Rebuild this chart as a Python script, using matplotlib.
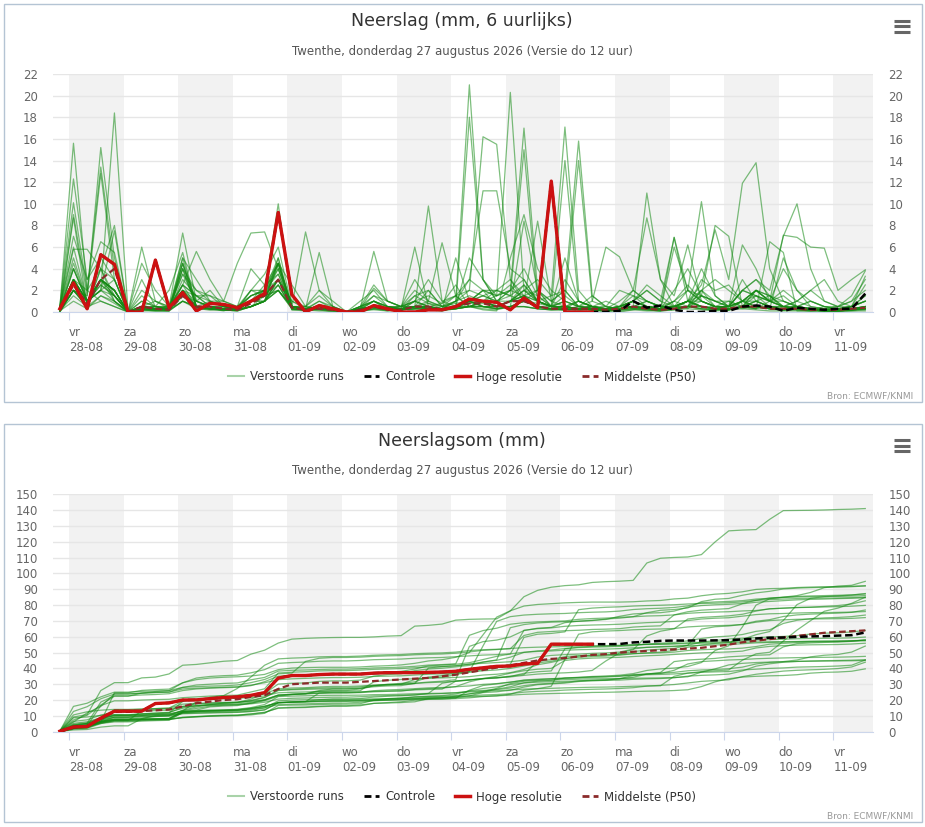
import numpy as np
import matplotlib
matplotlib.use('Agg')
import matplotlib.pyplot as plt
from matplotlib.lines import Line2D
from matplotlib.patches import Rectangle

# tijdas: 60 stappen van 6 uur, in uren t.o.v. vr 28-08 00:00 (eerste punt do 27-08 20u)
hours = -4 + 6 * np.arange(60)

day_names = ['vr', 'za', 'zo', 'ma', 'di', 'wo', 'do', 'vr', 'za', 'zo', 'ma', 'di', 'wo', 'do', 'vr']
day_dates = ['28-08', '29-08', '30-08', '31-08', '01-09', '02-09', '03-09', '04-09',
             '05-09', '06-09', '07-09', '08-09', '09-09', '10-09', '11-09']

# verstoorde runs, neerslag per 6 uur (mm)
members = [
    [0.3, 9.0, 1.5, 15.2, 5.0, 0.0, 3.0, 0.5, 2.0, 5.5, 0.5, 1.0, 1.0, 0.5, 4.0, 2.5, 4.5, 2.5, 0.5, 0.3, 0.2, 0.1, 0.0, 0.3, 0.5,
     0.3, 6.0, 0.5, 0.8, 2.5, 0.5, 0.2, 0.1, 5.0, 9.0, 4.0, 2.0, 1.0, 0.5, 1.5, 0.5, 0.3, 0.5, 11.0, 3.0, 0.5, 0.3, 1.5, 8.0, 7.0, 0.5, 0.3, 6.5, 5.5, 0.1, 0.1, 0.2, 0.3, 0.2, 0.4],
    [0.5, 6.0, 1.0, 3.0, 2.0, 0.0, 0.5, 0.3, 0.2, 2.5, 1.5, 0.5, 0.3, 0.2, 1.0, 2.0, 4.5, 0.5, 0.2, 0.3, 0.1, 0.0, 0.3, 1.0, 0.5,
     0.2, 1.5, 0.8, 0.5, 1.0, 21.0, 3.0, 1.0, 2.0, 4.0, 1.5, 0.5, 3.0, 1.0, 0.5, 0.5, 2.0, 1.5, 0.5, 0.3, 1.0, 2.5, 1.0, 0.5, 0.3, 0.5, 2.0, 1.5, 0.5, 1.0, 2.0, 3.0, 1.0, 0.5, 2.5],
    [0.2, 3.0, 1.0, 2.0, 18.4, 0.0, 1.5, 0.5, 0.3, 4.0, 2.0, 1.0, 0.5, 0.3, 0.5, 1.0, 3.0, 1.0, 0.3, 0.2, 0.0, 0.0, 0.2, 0.5, 0.3,
     0.5, 1.0, 1.5, 0.8, 1.5, 3.0, 11.2, 11.2, 4.0, 3.0, 1.0, 0.5, 0.5, 0.3, 0.2, 0.0, 0.0, 0.2, 0.5, 0.3, 1.0, 0.5, 1.5, 1.0, 0.5, 1.0, 1.5, 0.5, 0.2, 0.5, 0.3, 0.2, 0.1, 0.2, 0.3],
    [0.1, 2.0, 0.5, 4.0, 1.5, 0.0, 0.5, 1.0, 0.5, 3.5, 2.0, 1.5, 1.0, 0.5, 2.0, 3.5, 6.0, 0.5, 0.2, 1.0, 0.3, 0.0, 0.5, 2.5, 1.0,
     0.5, 2.0, 1.0, 0.5, 0.8, 1.0, 2.0, 1.5, 20.3, 2.0, 1.0, 0.5, 0.3, 0.2, 0.5, 1.0, 0.5, 1.0, 2.5, 1.5, 0.5, 1.0, 4.0, 1.5, 0.5, 2.0, 1.5, 1.0, 1.5, 0.5, 0.3, 0.2, 0.1, 0.3, 0.5],
    [0.4, 15.6, 2.0, 4.0, 3.0, 0.0, 0.5, 0.2, 0.3, 2.0, 0.5, 0.3, 0.2, 0.5, 1.5, 2.0, 3.5, 0.5, 7.4, 2.0, 0.5, 0.0, 0.2, 0.5, 0.3,
     0.2, 0.5, 0.3, 0.2, 0.5, 0.8, 1.0, 0.5, 0.5, 8.4, 2.0, 0.5, 0.5, 0.3, 0.5, 0.2, 0.3, 1.0, 0.5, 0.3, 6.9, 2.0, 1.0, 0.5, 0.5, 3.0, 1.0, 0.5, 0.5, 0.5, 0.3, 0.2, 0.3, 0.2, 0.3],
    [0.2, 4.0, 1.0, 3.0, 2.0, 0.0, 0.3, 0.5, 0.2, 1.5, 1.0, 2.0, 0.5, 0.3, 1.5, 2.0, 3.0, 0.5, 0.5, 1.5, 0.5, 0.0, 1.0, 2.0, 0.5,
     0.5, 3.0, 1.0, 0.5, 1.5, 2.0, 16.2, 15.5, 3.0, 1.0, 0.5, 0.3, 0.2, 0.5, 0.3, 0.2, 0.5, 1.0, 0.5, 0.3, 0.5, 1.0, 2.0, 0.5, 0.3, 0.5, 1.0, 0.5, 0.5, 0.3, 0.2, 0.1, 0.1, 0.2, 0.3],
    [0.1, 2.0, 0.5, 3.0, 1.0, 0.0, 0.5, 0.3, 0.2, 1.5, 0.5, 0.5, 0.3, 0.2, 0.5, 1.0, 3.0, 0.3, 0.2, 0.5, 0.3, 0.0, 0.5, 1.0, 0.2,
     0.3, 0.5, 2.0, 0.5, 1.0, 1.5, 1.0, 2.0, 1.5, 2.5, 1.0, 0.5, 1.5, 0.5, 0.5, 0.3, 0.5, 1.0, 2.0, 1.0, 0.5, 1.0, 2.5, 7.6, 3.0, 11.9, 13.8, 4.0, 1.0, 0.5, 0.3, 0.2, 0.2, 0.3, 0.5],
    [0.5, 12.3, 3.0, 5.0, 3.0, 0.0, 0.5, 0.5, 0.2, 3.0, 1.5, 0.5, 0.5, 0.3, 2.0, 1.5, 4.0, 0.5, 0.2, 0.3, 0.2, 0.0, 0.3, 0.5, 0.2,
     0.3, 0.5, 0.8, 0.3, 0.5, 18.0, 3.0, 1.5, 2.5, 1.0, 0.5, 0.3, 0.3, 1.0, 0.5, 0.3, 0.5, 0.3, 0.5, 0.2, 0.5, 1.0, 0.5, 0.3, 0.2, 0.5, 0.3, 1.0, 0.5, 0.3, 0.2, 0.2, 0.2, 0.3, 0.5],
    [0.3, 5.0, 1.0, 2.5, 1.5, 0.0, 1.0, 0.5, 0.5, 2.5, 1.5, 1.0, 0.5, 0.5, 1.5, 2.0, 4.5, 0.5, 0.5, 0.3, 0.2, 0.0, 0.5, 1.0, 0.5,
     0.2, 0.5, 0.5, 0.3, 0.5, 0.8, 1.0, 0.5, 0.5, 1.0, 0.8, 0.5, 0.3, 0.5, 1.0, 6.0, 5.1, 2.0, 8.7, 3.0, 1.5, 6.2, 1.0, 0.5, 0.5, 1.0, 2.0, 1.5, 0.3, 0.5, 0.2, 0.5, 0.5, 1.0, 2.0],
    [0.1, 1.5, 0.5, 3.0, 2.0, 0.0, 0.3, 0.2, 0.2, 1.0, 0.5, 0.5, 0.3, 0.2, 1.0, 1.0, 2.5, 0.3, 0.2, 0.5, 0.3, 0.0, 0.3, 1.5, 0.5,
     0.5, 1.0, 0.5, 0.2, 0.3, 0.5, 0.8, 0.5, 1.0, 2.5, 1.0, 1.5, 17.1, 2.0, 0.5, 0.3, 0.5, 1.5, 1.0, 0.5, 0.5, 2.0, 10.2, 1.5, 0.5, 1.0, 2.0, 1.0, 2.0, 1.0, 0.5, 0.3, 0.3, 0.5, 1.5],
    [0.3, 3.0, 2.0, 13.4, 4.0, 0.0, 0.5, 0.3, 0.5, 2.0, 1.0, 0.5, 0.3, 0.3, 1.0, 2.5, 3.5, 0.5, 0.3, 0.5, 0.2, 0.0, 0.2, 0.5, 0.3,
     0.5, 1.5, 2.0, 0.5, 0.5, 1.0, 2.0, 2.0, 1.5, 15.0, 1.0, 0.5, 1.0, 0.5, 0.3, 0.2, 0.3, 0.5, 0.5, 0.3, 0.5, 0.5, 1.0, 0.5, 0.3, 1.0, 1.0, 0.5, 0.2, 0.3, 0.2, 0.1, 0.1, 0.2, 0.3],
    [0.2, 3.0, 1.0, 2.0, 3.0, 0.0, 1.0, 0.5, 0.5, 2.0, 1.5, 1.5, 0.5, 0.3, 1.0, 1.5, 3.0, 1.0, 0.5, 2.0, 1.0, 0.0, 0.5, 1.5, 1.0,
     0.5, 1.0, 3.0, 1.0, 1.5, 0.5, 1.0, 0.5, 1.0, 1.5, 2.0, 1.0, 2.0, 0.5, 0.5, 0.3, 0.5, 1.0, 0.5, 0.5, 1.0, 2.0, 1.5, 1.0, 0.5, 2.0, 3.0, 2.0, 7.0, 10.0, 4.0, 1.0, 0.5, 0.5, 1.0],
    [0.2, 2.0, 1.5, 12.8, 3.0, 0.0, 0.5, 0.3, 0.2, 1.0, 0.5, 0.5, 0.3, 0.3, 2.0, 2.0, 10.0, 0.5, 0.3, 0.5, 0.2, 0.0, 0.3, 0.5, 0.2,
     0.3, 0.5, 0.5, 0.2, 0.5, 1.0, 1.5, 1.0, 2.0, 3.0, 1.0, 0.5, 1.0, 0.5, 0.3, 0.2, 0.3, 0.5, 1.0, 0.5, 0.5, 1.0, 1.5, 1.0, 0.5, 1.0, 2.0, 1.0, 4.0, 2.0, 1.0, 0.5, 0.3, 0.5, 1.0],
    [0.1, 8.7, 0.5, 1.0, 0.5, 0.0, 0.3, 0.2, 0.5, 7.3, 1.0, 0.5, 0.3, 0.2, 0.5, 1.0, 2.0, 0.3, 0.2, 0.3, 0.2, 0.0, 0.3, 5.6, 1.0,
     0.5, 0.5, 0.3, 0.2, 0.3, 0.5, 1.0, 0.5, 1.0, 2.0, 3.0, 1.5, 2.0, 15.8, 1.5, 0.5, 0.3, 0.5, 0.3, 0.2, 0.3, 1.0, 0.5, 0.3, 0.2, 0.5, 1.5, 1.0, 0.5, 0.3, 0.2, 0.1, 0.1, 0.2, 0.5],
    [0.5, 10.1, 2.0, 1.0, 0.5, 0.0, 0.3, 0.2, 0.3, 4.5, 1.0, 0.5, 0.5, 0.2, 1.0, 1.5, 3.0, 0.5, 0.2, 0.5, 0.3, 0.0, 0.3, 0.5, 0.2,
     0.3, 0.5, 9.8, 1.0, 0.5, 1.0, 0.5, 0.5, 0.5, 1.0, 2.0, 1.0, 0.5, 0.3, 0.5, 0.3, 0.5, 2.0, 1.0, 0.5, 0.3, 0.5, 2.0, 1.0, 1.0, 0.5, 0.3, 0.5, 0.3, 0.5, 1.0, 0.5, 0.3, 0.5, 1.0],
    [0.2, 4.0, 1.0, 2.5, 1.5, 0.0, 0.5, 0.3, 0.2, 2.0, 0.5, 0.3, 0.2, 0.2, 1.0, 1.5, 2.5, 0.5, 0.3, 1.0, 0.5, 0.0, 0.2, 1.0, 0.5,
     0.3, 0.5, 1.0, 6.4, 1.5, 0.5, 1.0, 0.5, 1.0, 1.0, 8.4, 1.0, 2.0, 0.5, 0.3, 0.2, 0.3, 0.5, 0.3, 0.2, 0.5, 1.0, 0.5, 0.3, 0.2, 0.5, 1.0, 1.5, 0.5, 0.5, 0.3, 0.2, 0.2, 0.3, 0.5],
    [0.3, 3.0, 1.0, 2.0, 7.5, 0.0, 0.3, 0.5, 0.3, 2.5, 0.5, 0.3, 0.3, 0.2, 0.5, 1.0, 3.0, 0.5, 0.3, 0.3, 0.2, 0.0, 0.2, 0.5, 0.3,
     0.2, 1.0, 0.5, 0.3, 1.0, 3.0, 2.0, 1.5, 2.0, 1.5, 1.0, 0.5, 5.0, 1.0, 0.5, 0.2, 0.3, 0.5, 0.5, 0.3, 0.5, 0.5, 0.5, 0.3, 0.3, 0.5, 2.0, 1.0, 0.5, 0.3, 0.2, 0.1, 0.1, 0.3, 0.5],
    [0.1, 2.0, 0.5, 3.0, 1.5, 0.0, 6.0, 1.0, 0.3, 1.5, 0.5, 0.3, 0.2, 0.2, 0.5, 1.0, 2.0, 0.5, 0.2, 0.3, 0.2, 0.0, 0.3, 0.5, 0.2,
     0.2, 0.3, 0.5, 0.3, 0.5, 1.0, 0.5, 0.5, 1.0, 1.5, 1.0, 0.5, 0.5, 1.0, 0.5, 0.3, 0.5, 1.0, 2.0, 1.0, 6.9, 1.0, 0.5, 0.5, 1.0, 0.5, 0.5, 0.3, 5.0, 2.0, 0.5, 0.3, 0.2, 0.5, 1.0],
    [0.2, 4.5, 1.0, 3.0, 2.0, 0.0, 0.5, 0.5, 0.3, 3.5, 1.0, 0.5, 0.3, 0.3, 1.0, 1.5, 3.0, 0.5, 0.3, 0.5, 0.2, 0.0, 0.3, 1.0, 0.5,
     0.3, 0.5, 0.5, 0.2, 0.5, 0.5, 1.0, 0.5, 1.0, 1.0, 0.5, 0.5, 0.5, 0.3, 0.5, 0.2, 0.3, 0.5, 0.3, 0.2, 0.3, 0.5, 0.5, 0.3, 0.2, 1.0, 0.5, 0.5, 0.3, 0.5, 0.2, 0.2, 0.3, 0.5, 3.3],
    [0.1, 3.0, 1.0, 3.0, 2.0, 0.0, 0.3, 0.2, 0.2, 1.5, 0.3, 0.2, 0.2, 0.2, 0.5, 1.0, 4.5, 0.5, 0.3, 5.5, 0.5, 0.0, 0.2, 0.3, 0.2,
     0.2, 0.5, 0.3, 0.2, 5.0, 1.0, 0.5, 0.5, 1.0, 2.0, 1.0, 0.5, 14.0, 1.0, 0.5, 0.2, 0.3, 0.5, 0.3, 0.2, 0.3, 0.5, 0.3, 0.2, 0.2, 0.5, 0.5, 0.3, 0.2, 0.3, 0.2, 0.1, 0.1, 0.2, 0.5],
    [0.2, 3.0, 0.5, 1.5, 1.0, 0.0, 0.5, 0.3, 0.2, 5.0, 0.5, 0.5, 0.3, 0.2, 1.0, 1.5, 2.0, 0.5, 0.3, 0.5, 0.2, 0.0, 0.2, 0.5, 0.3,
     0.2, 0.3, 0.5, 0.2, 0.3, 0.5, 0.5, 0.3, 0.5, 1.0, 0.5, 0.3, 0.5, 0.3, 0.2, 0.2, 0.3, 0.5, 1.0, 0.5, 0.5, 1.0, 1.0, 0.5, 0.5, 2.0, 1.5, 1.0, 1.0, 0.5, 0.3, 0.3, 0.5, 1.0, 3.0],
    [0.1, 4.0, 1.0, 3.0, 2.0, 0.0, 0.2, 0.2, 0.1, 1.0, 0.3, 0.2, 0.2, 0.1, 0.5, 1.0, 4.5, 0.2, 0.2, 0.3, 0.1, 0.0, 0.2, 0.3, 0.2,
     0.2, 0.3, 0.2, 0.1, 0.5, 5.0, 3.0, 1.0, 1.0, 1.5, 0.5, 0.3, 0.3, 0.2, 0.3, 0.2, 0.5, 1.0, 0.5, 0.3, 2.0, 4.0, 1.5, 0.5, 0.5, 0.3, 0.5, 0.3, 0.2, 0.2, 0.1, 0.1, 0.1, 0.2, 0.3],
    [0.2, 3.0, 1.0, 2.0, 1.0, 0.0, 0.5, 0.3, 0.2, 4.5, 0.5, 0.3, 0.2, 0.2, 1.0, 1.0, 2.5, 0.3, 0.2, 0.3, 0.2, 0.0, 0.2, 0.5, 0.2,
     0.2, 0.3, 0.3, 0.2, 0.3, 0.5, 0.3, 0.2, 0.5, 0.5, 0.3, 0.2, 0.2, 0.2, 0.3, 0.1, 0.2, 0.3, 0.2, 0.1, 0.3, 0.5, 2.0, 3.0, 2.0, 1.0, 0.5, 0.3, 0.2, 0.5, 1.0, 0.5, 0.2, 0.5, 1.5],
    [0.1, 3.0, 1.0, 2.0, 1.5, 0.0, 0.2, 0.1, 0.1, 1.0, 0.5, 0.3, 0.2, 0.1, 0.5, 1.0, 5.0, 0.2, 0.1, 0.3, 0.2, 0.0, 0.3, 2.2, 1.0,
     0.5, 0.5, 0.3, 0.2, 0.5, 1.0, 1.5, 2.0, 3.0, 1.5, 0.5, 0.3, 0.2, 0.3, 0.2, 0.1, 0.1, 0.2, 0.1, 0.1, 0.2, 0.5, 3.0, 2.0, 2.5, 1.0, 0.5, 0.3, 0.2, 0.2, 0.1, 0.1, 0.1, 0.1, 0.2],
    [0.0, 2.0, 1.0, 3.0, 1.5, 0.0, 0.2, 0.1, 0.1, 4.0, 0.5, 0.3, 0.2, 0.1, 0.5, 1.5, 4.5, 0.5, 0.2, 0.1, 0.1, 0.0, 0.1, 0.2, 0.1,
     0.2, 1.0, 0.5, 0.3, 1.0, 2.0, 1.5, 1.0, 1.5, 1.0, 0.5, 0.3, 0.2, 0.3, 0.2, 0.1, 0.2, 0.5, 0.3, 0.2, 0.5, 1.0, 0.5, 0.3, 0.5, 2.0, 3.0, 1.5, 1.0, 0.5, 0.3, 0.2, 0.1, 0.2, 0.3],
    [0.3, 5.8, 5.8, 4.0, 8.0, 0.0, 0.5, 0.3, 0.3, 2.0, 0.5, 0.3, 0.3, 0.3, 1.0, 1.5, 2.0, 0.5, 0.3, 0.3, 0.2, 0.0, 0.2, 0.5, 0.2,
     0.2, 0.5, 0.5, 0.3, 0.5, 1.0, 1.0, 1.5, 2.0, 17.0, 2.0, 0.5, 1.0, 14.0, 1.0, 0.5, 0.3, 0.5, 0.3, 0.2, 0.3, 0.5, 0.3, 0.2, 0.3, 0.5, 1.0, 0.5, 0.3, 0.3, 0.2, 0.1, 0.1, 0.2, 0.3],
    [0.2, 2.0, 0.5, 4.0, 1.0, 0.0, 0.3, 0.2, 0.2, 4.0, 0.5, 0.3, 0.2, 0.2, 0.5, 1.0, 2.0, 0.3, 0.2, 0.3, 0.2, 0.0, 0.5, 1.0, 0.3,
     0.3, 0.5, 0.5, 0.2, 0.3, 1.0, 2.0, 0.5, 1.0, 2.0, 1.5, 0.5, 0.5, 1.0, 0.5, 0.3, 1.0, 2.0, 1.0, 0.5, 0.5, 1.0, 0.5, 0.3, 0.5, 1.0, 2.0, 1.0, 0.5, 1.0, 2.0, 1.0, 0.5, 1.5, 3.8],
    [0.4, 7.0, 3.0, 6.5, 5.5, 0.0, 2.0, 1.0, 0.5, 5.0, 3.0, 1.0, 0.5, 0.3, 1.5, 2.0, 4.0, 0.5, 0.3, 0.5, 0.2, 0.0, 0.3, 0.5, 0.2,
     0.2, 0.5, 0.3, 0.2, 0.5, 0.5, 0.5, 0.3, 0.5, 1.0, 0.5, 0.3, 0.5, 0.3, 0.2, 0.2, 0.3, 0.5, 0.3, 0.2, 0.3, 0.5, 0.3, 0.2, 0.3, 0.5, 0.5, 0.3, 0.2, 0.3, 0.2, 0.1, 0.1, 0.2, 0.3],
    [0.1, 1.0, 0.3, 1.5, 0.8, 0.0, 4.5, 2.0, 0.5, 2.5, 5.6, 3.0, 1.0, 4.5, 7.3, 7.4, 4.0, 0.5, 0.3, 0.5, 0.2, 0.0, 0.3, 0.5, 0.3,
     0.2, 0.5, 0.3, 0.2, 0.5, 1.0, 0.5, 0.3, 0.5, 0.5, 0.3, 0.2, 0.2, 0.3, 0.2, 0.1, 0.2, 0.3, 0.2, 0.1, 0.2, 0.3, 0.2, 0.1, 0.2, 0.3, 0.2, 0.1, 0.1, 0.1, 0.1, 0.1, 0.0, 0.1, 0.1],
    [0.0, 2.0, 1.0, 3.0, 2.0, 0.0, 0.1, 0.1, 0.1, 4.5, 0.5, 0.3, 0.1, 0.5, 1.0, 2.0, 5.0, 0.3, 0.2, 0.2, 0.1, 0.0, 0.1, 0.3, 0.1,
     0.2, 0.3, 0.2, 0.1, 0.3, 0.5, 0.5, 0.3, 0.5, 0.5, 0.3, 0.2, 0.3, 0.2, 0.2, 0.1, 0.2, 0.3, 0.2, 0.1, 6.0, 2.0, 1.0, 0.5, 0.5, 6.2, 4.0, 1.0, 7.1, 6.9, 6.0, 5.9, 2.0, 3.0, 3.9],
]

# hoge resolutie (loopt tot 06-09 14u) en controle-run (zelfde als HRES, daarna eigen verloop)
hres = [0.3, 2.7, 0.3, 5.3, 4.4, 0.0, 0.0, 4.8, 0.4, 1.8, 0.1, 0.8, 0.7, 0.4, 1.0, 1.7, 9.2, 1.6, 0.0, 0.6,
        0.3, 0.0, 0.0, 0.6, 0.3, 0.0, 0.0, 0.2, 0.2, 0.5, 1.2, 1.0, 0.9, 0.2, 1.3, 0.4, 12.1, 0.0, 0.0, 0.0]
controle_tail = [0.0, 0.1, 1.0, 0.4, 0.6, 0.2, 0.0, 0.0, 0.1, 0.1, 0.5, 0.6, 0.5, 0.1, 0.4, 0.3, 0.2, 0.3, 0.3, 1.7]
controle = hres + controle_tail

# mediaan (P50) per 6 uur en van de neerslagsom
p50 = [0.2, 2.5, 0.8, 3.0, 4.0, 0.0, 0.5, 0.3, 0.2, 1.5, 0.5, 0.5, 0.3, 0.2, 0.8, 1.5, 3.0, 0.4, 0.2, 0.3,
       0.2, 0.0, 0.2, 0.5, 0.2, 0.2, 0.5, 0.5, 0.2, 0.5, 0.8, 0.8, 0.5, 1.0, 1.0, 0.5, 0.3, 0.3, 0.3, 0.3,
       0.2, 0.3, 0.5, 0.3, 0.2, 0.3, 0.5, 0.5, 0.3, 0.3, 0.5, 0.5, 0.3, 0.3, 0.3, 0.2, 0.2, 0.2, 0.3, 0.4]
p50_sum = [0, 2.5, 3.5, 8, 12.5, 12.5, 13, 13.5, 14, 16, 18, 19, 20, 20.5, 22, 23, 27, 30, 30.5, 31,
           31, 31, 31.5, 32, 32.5, 33, 33.5, 34, 35, 36, 37.5, 39, 40.5, 42, 43.5, 45, 46, 46.5, 47.5, 48.5,
           49, 50, 50.5, 51, 51.5, 52, 52.5, 53, 54, 55, 56.5, 57.5, 58.5, 59.5, 60.5, 61.5, 62.5, 63, 63.5, 64]

W, H = 925, 827
fig = plt.figure(figsize=(W / 100, H / 100), dpi=100)


def fx(x):
    return x / W


def fy(y):
    return 1 - y / H


def style(ax, ymax, step):
    ax.set_xlim(-7.0, 353.4)
    ax.set_ylim(0, ymax)
    for d in range(0, 15, 2):
        ax.axvspan(d * 24, d * 24 + 24, color='#f2f2f2', lw=0, zorder=0)
    ax.set_yticks(np.arange(0, ymax + 1, step))
    ax.grid(axis='y', color='#e6e6e6', lw=1)
    ax.set_axisbelow(True)
    for s in ['left', 'right', 'top']:
        ax.spines[s].set_visible(False)
    ax.spines['bottom'].set_color('#ccd6eb')
    ax.tick_params(axis='y', length=0, labelsize=8.5, labelcolor='#666666',
                   labelleft=True, labelright=True, pad=11)
    ax.set_xticks(np.arange(15) * 24)
    ax.set_xticklabels([f'{n}\n{d}' for n, d in zip(day_names, day_dates)], ha='left')
    ax.tick_params(axis='x', length=6, color='#ccd6eb', labelsize=8.5, labelcolor='#666666', pad=4)


def panel(top, title, subtitle):
    fig.add_artist(Rectangle((fx(3.5), fy(top + 398)), fx(918), 398 / H, transform=fig.transFigure,
                             fill=False, ec='#b4c4d4', lw=1))
    fig.text(fx(462), fy(top + 17), title, ha='center', va='center', fontsize=12.5, color='#333333')
    fig.text(fx(462), fy(top + 47), subtitle, ha='center', va='center', fontsize=8.5, color='#555555')
    for dy in (16.5, 22, 27.5):
        fig.add_artist(Line2D([fx(894), fx(910)], [fy(top + dy), fy(top + dy)], transform=fig.transFigure,
                              color='#666666', lw=2.2, solid_capstyle='butt'))
    fig.text(fx(913), fy(top + 392), 'Bron: ECMWF/KNMI', ha='right', va='center', fontsize=6.5, color='#999999')
    handles = [Line2D([], [], color='#a9d3a9', lw=1.5),
               Line2D([], [], color='black', lw=2, ls=(0, (2.5, 1.5))),
               Line2D([], [], color='#cc1111', lw=2.5),
               Line2D([], [], color='#8b2a2a', lw=2, ls=(0, (2.5, 1.5)))]
    labels = ['Verstoorde runs', 'Controle', 'Hoge resolutie', 'Middelste (P50)']
    fig.legend(handles, labels, loc='center', bbox_to_anchor=(fx(462), fy(top + 373)), ncol=4,
               frameon=False, fontsize=8.5, handlelength=1.3, handletextpad=0.5, columnspacing=1.7,
               labelcolor='#333333')


subtitle = 'Twenthe, donderdag 27 augustus 2026 (Versie do 12 uur)'

# bovenste grafiek: neerslag per 6 uur
ax1 = fig.add_axes([fx(53), fy(312), fx(820), 238 / H])
style(ax1, 22, 2)
for m in members:
    ax1.plot(hours, m, color='#138a13', alpha=0.55, lw=0.9, zorder=2)
ax1.plot(hours, p50, color='#8b2a2a', lw=1.6, ls=(0, (3, 1.5)), zorder=3)
ax1.plot(hours, controle, color='black', lw=1.8, ls=(0, (3, 1.5)), zorder=4)
ax1.plot(hours[:len(hres)], hres, color='#cc1111', lw=2.4, zorder=5)
panel(4, 'Neerslag (mm, 6 uurlijks)', subtitle)

# onderste grafiek: neerslagsom
ax2 = fig.add_axes([fx(53), fy(731.7), fx(820), 237.4 / H])
style(ax2, 150, 10)
for m in members:
    ax2.plot(hours, np.cumsum(m), color='#138a13', alpha=0.55, lw=0.9, zorder=2)
ax2.plot(hours, p50_sum, color='#8b2a2a', lw=1.6, ls=(0, (3, 1.5)), zorder=3)
ax2.plot(hours, np.cumsum(controle), color='black', lw=1.8, ls=(0, (3, 1.5)), zorder=4)
ax2.plot(hours[:len(hres)], np.cumsum(hres), color='#cc1111', lw=2.4, zorder=5)
panel(424, 'Neerslagsom (mm)', subtitle)

fig.savefig('out.png', dpi=100)
